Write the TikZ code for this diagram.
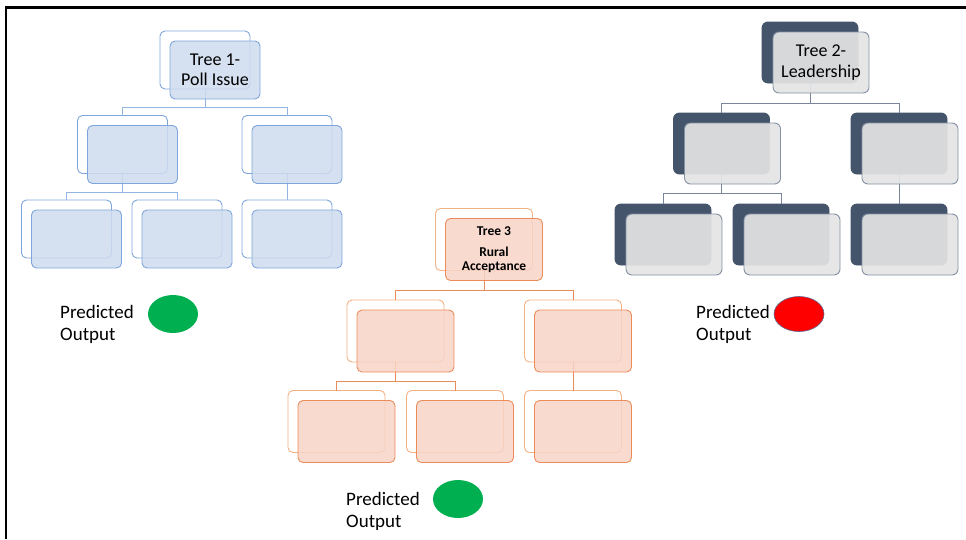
\documentclass[tikz,border=0pt]{standalone}
\usepackage{fontspec}
\setmainfont{Carlito}
\usetikzlibrary{shapes.geometric}

% colour sets for the three trees
\definecolor{blueline}{RGB}{126,166,218}
\definecolor{bluefill}{RGB}{206,219,239}
\definecolor{bluecon}{RGB}{146,181,226}
\definecolor{darkfill}{RGB}{68,84,106}
\definecolor{grayfill}{RGB}{228,228,228}
\definecolor{grayline}{RGB}{132,145,165}
\definecolor{graycon}{RGB}{120,133,155}
\definecolor{orline}{RGB}{237,140,90}
\definecolor{orback}{RGB}{244,177,131}
\definecolor{orfill}{RGB}{247,212,199}
\definecolor{orcon}{RGB}{232,140,90}
\definecolor{okgreen}{RGB}{0,176,80}
\definecolor{badred}{RGB}{255,0,0}
\definecolor{redrim}{RGB}{90,100,140}

\tikzset{
  box/.style={rectangle, rounded corners=5pt, inner sep=0pt, outer sep=0pt, line width=0.9pt},
  % tree 1 (blue)
  bluesize/.style={minimum width=90pt, minimum height=58pt},
  blueback/.style={box, bluesize, draw=blueline, fill=white},
  bluefront/.style={box, bluesize, draw=blueline, fill=bluefill, fill opacity=0.85, text opacity=1},
  bluelink/.style={draw=bluecon, line width=0.9pt},
  % tree 2 (dark)
  darksize/.style={minimum width=96pt, minimum height=61pt},
  darkback/.style={box, darksize, rounded corners=6pt, draw=darkfill, fill=darkfill},
  darkfront/.style={box, darksize, rounded corners=6pt, draw=grayline, fill=grayfill, fill opacity=0.92, text opacity=1},
  darklink/.style={draw=graycon, line width=0.9pt},
  % tree 3 (orange)
  orsize/.style={minimum width=97pt, minimum height=62pt},
  orback/.style={box, orsize, draw=orback, fill=white},
  orfront/.style={box, orsize, draw=orline, fill=orfill, fill opacity=0.85, text opacity=1},
  orlink/.style={draw=orcon, line width=0.9pt},
  % results
  outtext/.style={inner sep=0pt, align=left, font=\fontsize{19}{22}\selectfont},
  verdict/.style={ellipse, inner sep=0pt, minimum width=50pt, minimum height=38pt},
}

\begin{document}
\begin{tikzpicture}[x=1pt, y=-1pt]
\useasboundingbox (0,0) rectangle (966,539);

% frame
\draw[line width=2.5pt] (6,539) -- (6,7.5) -- (966,7.5);

% ---------- back boxes ----------
% tree 1
\node[blueback] (a0) at (205,60) {};
\node[blueback] (a1) at (122.5,144.5) {};
\node[blueback] (a2) at (287,144.5) {};
\node[blueback] (a3) at (66.5,229) {};
\node[blueback] (a4) at (177,229) {};
\node[blueback] (a5) at (287,229) {};
% tree 2
\node[darkback] (b0) at (810,52.5) {};
\node[darkback] (b1) at (721.5,143.5) {};
\node[darkback] (b2) at (899,143.5) {};
\node[darkback] (b3) at (663,234.5) {};
\node[darkback] (b4) at (781,234.5) {};
\node[darkback] (b5) at (899,234.5) {};
% tree 3
\node[orback] (c0) at (484,239.5) {};
\node[orback] (c1) at (395.5,331) {};
\node[orback] (c2) at (573,331) {};
\node[orback] (c3) at (336.5,421.5) {};
\node[orback] (c4) at (455,421.5) {};
\node[orback] (c5) at (573,421.5) {};

% ---------- connectors ----------
\draw[bluelink] (a0.south) -- ++(0,18.5) -| (a1.north);
\draw[bluelink] (a0.south) -- ++(0,18.5) -| (a2.north);
\draw[bluelink] (a1.south) -- ++(0,18.5) -| (a3.north);
\draw[bluelink] (a1.south) -- ++(0,18.5) -| (a4.north);
\draw[bluelink] (a2.south) -- (a5.north);

\draw[darklink] (b0.south) -- ++(0,20) -| (b1.north);
\draw[darklink] (b0.south) -- ++(0,20) -| (b2.north);
\draw[darklink] (b1.south) -- ++(0,19) -| (b3.north);
\draw[darklink] (b1.south) -- ++(0,19) -| (b4.north);
\draw[darklink] (b2.south) -- (b5.north);

\draw[orlink] (c0.south) -- ++(0,20) -| (c1.north);
\draw[orlink] (c0.south) -- ++(0,20) -| (c2.north);
\draw[orlink] (c1.south) -- ++(0,19) -| (c3.north);
\draw[orlink] (c1.south) -- ++(0,19) -| (c4.north);
\draw[orlink] (c2.south) -- (c5.north);

% ---------- front boxes ----------
\node[bluefront, align=center, font=\fontsize{18}{20}\selectfont]
  (a0f) at ([shift={(10,10)}]a0.center) {Tree 1-\\Poll Issue};
\foreach \n in {a1,a2,a3,a4,a5}
  \node[bluefront] (\n f) at ([shift={(10,10)}]\n.center) {};

\node[darkfront, align=center, font=\fontsize{18}{21}\selectfont]
  (b0f) at ([shift={(11,10)}]b0.center) {Tree 2-\\Leadership};
\foreach \n in {b1,b2,b3,b4,b5}
  \node[darkfront] (\n f) at ([shift={(11,10)}]\n.center) {};

\node[orfront, align=center, font=\fontsize{13.5}{13.5}\selectfont\bfseries]
  (c0f) at ([shift={(10,10)}]c0.center) {Tree 3\\[8pt]Rural\\Acceptance};
\foreach \n in {c1,c2,c3,c4,c5}
  \node[orfront] (\n f) at ([shift={(10,10)}]\n.center) {};

% ---------- predicted outputs ----------
\node[outtext, anchor=west] (p1) at (60,324) {Predicted\\Output};
\node[verdict, fill=okgreen] (v1) at (173,314) {};

\node[outtext, anchor=west] (p2) at (696,324) {Predicted\\Output};
\node[verdict, fill=badred, draw=redrim, line width=0.6pt, minimum height=35pt] (v2) at (799,314) {};

\node[outtext, anchor=west] (p3) at (346,511) {Predicted\\Output};
\node[verdict, fill=okgreen] (v3) at (458,499) {};
\end{tikzpicture}
\end{document}
